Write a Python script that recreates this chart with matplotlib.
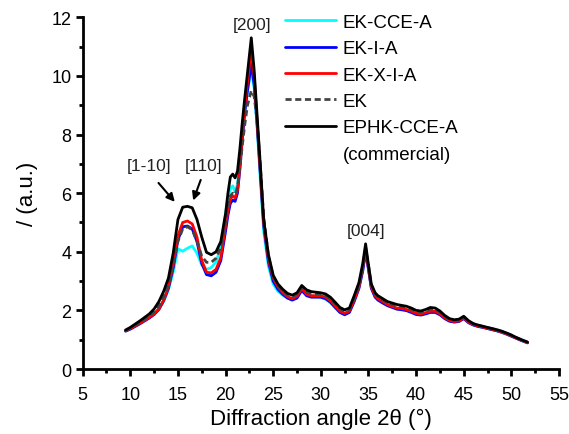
import matplotlib
matplotlib.use("Agg")
import matplotlib.pyplot as plt
from matplotlib.lines import Line2D
from matplotlib.ticker import MultipleLocator

plt.rcParams['font.family'] = ['Liberation Sans', 'DejaVu Sans']

# Diffraction angle grid (degrees)
angle = [9.5, 10, 10.5, 11, 11.5, 12, 12.5, 13, 13.5, 14, 14.5, 15, 15.5, 16, 16.5, 17, 17.5, 18, 18.5, 19,
         19.5, 20, 20.25, 20.5, 20.75, 21, 21.25, 21.5, 21.75, 22, 22.3, 22.7, 23.0, 23.3, 23.6, 24, 24.5, 25, 25.5, 26,
         26.5, 27, 27.5, 28, 28.5, 29, 29.5, 30, 30.5, 31, 31.5, 32, 32.5, 33, 33.5, 34, 34.4, 34.7, 35, 35.3,
         35.7, 36, 36.5, 37, 37.5, 38, 38.5, 39, 39.5, 40, 40.5, 41, 41.5, 42, 42.5, 43, 43.5, 44, 44.5, 45,
         45.5, 46, 46.5, 47, 47.5, 48, 48.5, 49, 49.5, 50, 50.5, 51, 51.7]

ek_cce_a = [1.30, 1.38, 1.48, 1.58, 1.68, 1.78, 1.90, 2.05, 2.30, 2.70, 3.30, 4.10, 4.02, 4.12, 4.20, 3.95, 3.55, 3.40, 3.46, 3.65,
            4.15, 5.30, 5.85, 6.15, 6.25, 6.05, 6.30, 7.00, 7.90, 8.80, 9.50, 10.20, 9.60, 8.30, 6.70, 4.70, 3.50, 2.90, 2.65, 2.52,
            2.42, 2.38, 2.45, 2.70, 2.55, 2.50, 2.48, 2.45, 2.38, 2.27, 2.12, 1.97, 1.90, 1.97, 2.32, 2.78, 3.40, 4.05, 3.42, 2.78,
            2.48, 2.38, 2.28, 2.19, 2.12, 2.06, 2.04, 2.01, 1.95, 1.88, 1.86, 1.90, 1.95, 1.95, 1.87, 1.74, 1.65, 1.61, 1.63, 1.73,
            1.59, 1.51, 1.46, 1.42, 1.38, 1.34, 1.30, 1.25, 1.19, 1.12, 1.05, 0.98, 0.90]

ek_i_a = [1.29, 1.36, 1.45, 1.54, 1.64, 1.74, 1.86, 2.03, 2.33, 2.75, 3.45, 4.40, 4.85, 4.88, 4.78, 4.35, 3.60, 3.22, 3.18, 3.30,
          3.70, 4.70, 5.25, 5.65, 5.76, 5.72, 6.00, 6.80, 7.80, 8.70, 9.50, 10.40, 9.70, 8.40, 6.90, 4.90, 3.65, 3.00, 2.72, 2.55,
          2.42, 2.35, 2.42, 2.68, 2.50, 2.45, 2.45, 2.45, 2.40, 2.28, 2.10, 1.93, 1.85, 1.93, 2.30, 2.75, 3.35, 4.00, 3.40, 2.75,
          2.45, 2.35, 2.25, 2.16, 2.10, 2.04, 2.02, 1.99, 1.93, 1.86, 1.84, 1.88, 1.93, 1.93, 1.85, 1.72, 1.63, 1.60, 1.62, 1.72,
          1.58, 1.50, 1.45, 1.42, 1.38, 1.34, 1.30, 1.25, 1.19, 1.12, 1.05, 0.98, 0.89]

ek_x_i_a = [1.31, 1.38, 1.47, 1.56, 1.66, 1.76, 1.88, 2.05, 2.35, 2.80, 3.55, 4.55, 5.00, 5.05, 4.95, 4.50, 3.70, 3.30, 3.28, 3.40,
            3.80, 4.90, 5.40, 5.80, 5.90, 5.84, 6.10, 6.90, 7.90, 8.90, 9.80, 10.90, 10.00, 8.50, 7.00, 5.00, 3.75, 3.10, 2.80, 2.60,
            2.47, 2.40, 2.48, 2.75, 2.55, 2.50, 2.50, 2.50, 2.45, 2.33, 2.15, 1.98, 1.90, 1.98, 2.35, 2.80, 3.45, 4.15, 3.45, 2.80,
            2.50, 2.40, 2.30, 2.20, 2.13, 2.08, 2.06, 2.03, 1.97, 1.90, 1.88, 1.92, 1.97, 1.97, 1.88, 1.75, 1.66, 1.62, 1.64, 1.74,
            1.60, 1.52, 1.47, 1.43, 1.39, 1.35, 1.31, 1.26, 1.20, 1.13, 1.06, 0.99, 0.90]

ek = [1.31, 1.39, 1.49, 1.59, 1.70, 1.81, 1.95, 2.15, 2.45, 2.85, 3.50, 4.35, 4.78, 4.85, 4.75, 4.35, 3.85, 3.64, 3.64, 3.78,
      4.15, 5.00, 5.55, 5.90, 6.00, 5.95, 6.20, 6.90, 7.60, 8.30, 9.00, 9.50, 9.30, 8.50, 7.20, 5.20, 3.85, 3.15, 2.82, 2.65,
      2.52, 2.46, 2.54, 2.78, 2.62, 2.58, 2.57, 2.55, 2.50, 2.40, 2.22, 2.05, 1.97, 2.03, 2.40, 2.85, 3.40, 4.05, 3.55, 2.85,
      2.56, 2.46, 2.36, 2.26, 2.20, 2.15, 2.13, 2.10, 2.04, 1.96, 1.94, 1.99, 2.05, 2.04, 1.94, 1.80, 1.70, 1.66, 1.68, 1.77,
      1.63, 1.54, 1.49, 1.45, 1.41, 1.37, 1.33, 1.28, 1.22, 1.15, 1.07, 1.00, 0.91]

ephk_cce_a = [1.33, 1.42, 1.53, 1.64, 1.76, 1.88, 2.05, 2.30, 2.65, 3.10, 3.95, 5.10, 5.52, 5.55, 5.50, 5.10, 4.50, 3.98, 3.90, 4.00,
              4.35, 5.30, 6.00, 6.55, 6.65, 6.52, 6.75, 7.50, 8.40, 9.20, 10.10, 11.30, 10.20, 8.70, 7.20, 5.10, 3.90, 3.20, 2.90, 2.72,
              2.58, 2.52, 2.60, 2.85, 2.70, 2.64, 2.62, 2.60, 2.56, 2.45, 2.28, 2.10, 2.02, 2.08, 2.50, 2.95, 3.60, 4.27, 3.55, 2.90,
              2.60, 2.50, 2.40, 2.30, 2.25, 2.20, 2.17, 2.14, 2.08, 2.00, 1.98, 2.03, 2.10, 2.08, 1.98, 1.83, 1.72, 1.68, 1.70, 1.80,
              1.65, 1.55, 1.50, 1.46, 1.42, 1.38, 1.34, 1.29, 1.23, 1.16, 1.08, 1.01, 0.92]

labels = ["EK-CCE-A", "EK-I-A", "EK-X-I-A", "EK", "EPHK-CCE-A"]
colors = ["#00FFFF", "#0000FF", "#FF0000", "#444444", "#000000"]
styles = ["-", "-", "-", "--", "-"]
series = [ek_cce_a, ek_i_a, ek_x_i_a, ek, ephk_cce_a]

peak_labels = ["[200]", "[1-10]", "[110]", "[004]"]
peak_pos = [(22.73, 11.76), (11.96, 6.93), (17.73, 6.93), (34.73, 4.72)]

fig = plt.figure(figsize=(5.69, 4.35), dpi=100)
ax = fig.add_axes([0.1453, 0.1494, 0.8371, 0.8086])

handles = []
for y, c, ls, lab in zip(series, colors, styles, labels):
    ln, = ax.plot(angle, y, color=c, ls=ls, lw=2.0, label=lab,
                  dashes=(2.2, 1.3) if ls == "--" else (None, None), solid_capstyle='round',
                  solid_joinstyle='round')
    handles.append(ln)

ax.set_xlim(5, 55)
ax.set_ylim(0, 12)
ax.xaxis.set_major_locator(MultipleLocator(5))
ax.xaxis.set_minor_locator(MultipleLocator(2.5))
ax.yaxis.set_major_locator(MultipleLocator(2))
ax.yaxis.set_minor_locator(MultipleLocator(1))
for s in ["top", "right"]:
    ax.spines[s].set_visible(False)
for s in ["left", "bottom"]:
    ax.spines[s].set_linewidth(2.0)
ax.tick_params(which='major', direction='out', length=5, width=2.0, labelsize=13, pad=3)
ax.tick_params(which='minor', direction='out', length=3, width=2.0)
ax.tick_params(axis='x', which='major', pad=7)

ax.set_xlabel("Diffraction angle 2θ (°)", fontsize=16, labelpad=4)
ax.set_ylabel("/ (a.u.)", fontsize=16, labelpad=10)

# peak annotations
for txt, (px, py) in zip(peak_labels, peak_pos):
    ax.text(px, py, txt, fontsize=12.5, ha='center', va='center', color='#222222')
ax.annotate("", xy=(14.86, 5.63), xytext=(12.77, 6.42),
            arrowprops=dict(arrowstyle='-|>', color='black', lw=1.5, mutation_scale=12))
ax.annotate("", xy=(16.5, 5.66), xytext=(17.49, 6.54),
            arrowprops=dict(arrowstyle='-|>', color='black', lw=1.5, mutation_scale=12))

extra = Line2D([], [], color='none')
leg = ax.legend(handles + [extra], labels + ["(commercial)"], loc='upper left',
                bbox_to_anchor=(0.41, 1.031), frameon=False, fontsize=13.5,
                handlelength=2.7, handletextpad=0.35, labelspacing=0.49, borderaxespad=0)
for h in leg.legend_handles:
    h.set_linewidth(2.0)

fig.savefig("out.png", dpi=100)
